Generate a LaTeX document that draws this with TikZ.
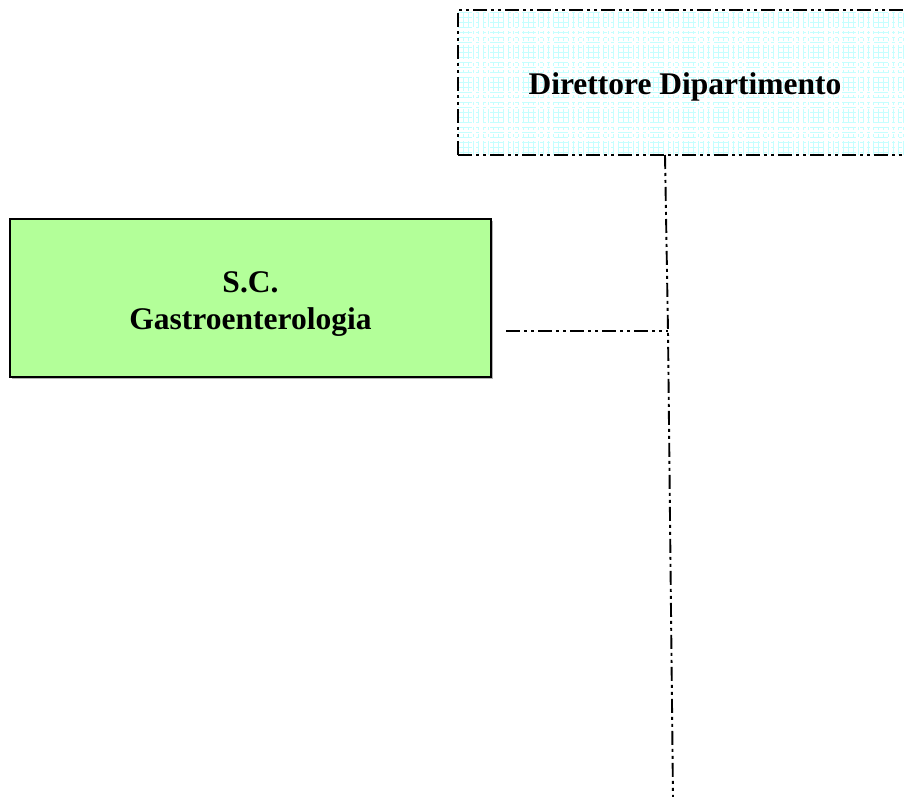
\documentclass[tikz,border=0pt]{standalone}
\usepackage{fontspec}
\setmainfont{Liberation Serif}
\definecolor{boxgreen}{HTML}{B3FF99}
\definecolor{gridcyan}{HTML}{C4FFFF}
\begin{document}
\begin{tikzpicture}[x=1pt,y=-1pt,
  ddd/.style={line width=1.9pt, dash pattern=on 14pt off 4pt on 3pt off 4pt on 3pt off 4pt},
  dirbox/.style={draw, ddd, minimum width=470pt, minimum height=145pt, inner sep=0pt,
    path picture={\draw[gridcyan, line width=1pt] (path picture bounding box.south west) grid[step=5pt] (path picture bounding box.north east);}},
  unitbox/.style={draw, line width=1.5pt, fill=boxgreen, minimum width=481pt, minimum height=158pt, inner sep=0pt, align=center},
  lbl/.style={font=\fontsize{31.5}{37}\selectfont\bfseries}
]
\useasboundingbox (0,0) rectangle (906,797);
\clip (0,0) rectangle (906,797);
% shadow of the green box
\fill[gray!60] (12,221) rectangle (493,379);
\node[unitbox] (gastro) at (250.5,298) {};
\node[lbl, align=center] (gastrolbl) at (250.5,304) {S.C.\\Gastroenterologia};
\node[dirbox] (dir) at (693,82.5) {};
\node[lbl] (dirlbl) at (685,87) {Direttore Dipartimento};
\coordinate (vtop) at (665,155);
\coordinate (join) at (668,331);
\coordinate (vbot) at (673,797);
\coordinate (hstart) at (506,331);
\draw[ddd] (vtop) -- (join) -- (vbot);
\draw[ddd] (hstart) -- (join);
\end{tikzpicture}
\end{document}
